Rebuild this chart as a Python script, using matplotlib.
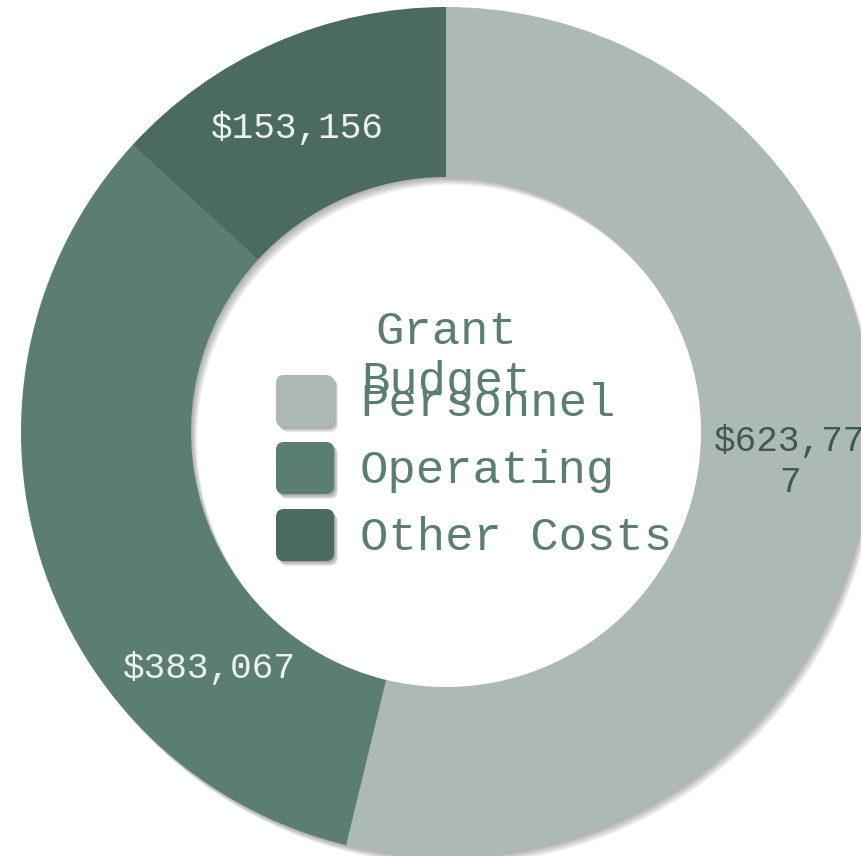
import numpy as np
import matplotlib.pyplot as plt
from matplotlib.patches import FancyBboxPatch, Wedge

# data
categories = ['Personnel', 'Operating', 'Other Costs']
amounts = [623777, 383067, 153156]
value_labels = ['$623,77\n7', '$383,067', '$153,156']
colors = ['#adbab3', '#5a7f70', '#4a6b5d']
label_colors = ['#3d5a4e', '#eef0ea', '#eef0ea']
title = 'Grant\nBudget'

W, H = 861, 856
cx, cy = 446, H - 432
r_out, r_in = 425, 255

fig = plt.figure(figsize=(W / 100, H / 100), dpi=100)
ax = fig.add_axes([0, 0, 1, 1])

# soft drop shadow for the whole ring
for k in range(1, 7):
    ax.add_patch(Wedge((cx + k, cy - 1.3 * k), r_out, 0, 360, width=r_out - r_in,
                       facecolor='#555555', edgecolor='none', alpha=0.09))

wedges, _ = ax.pie(amounts, colors=colors, startangle=90, counterclock=False,
                   radius=r_out, center=(cx, cy),
                   wedgeprops=dict(width=r_out - r_in, edgecolor='none'))

ax.set_xlim(0, W)
ax.set_ylim(0, H)
ax.set_aspect('equal')
ax.axis('off')

mono = 'Liberation Mono'

# value labels (angle measured clockwise from 12 o'clock, radius in px)
label_place = [(95, 345), (225, 335), (334, 338)]
for (ang, rr), txt, tc in zip(label_place, value_labels, label_colors):
    a = np.deg2rad(ang)
    ax.text(cx + rr * np.sin(a), cy + rr * np.cos(a), txt, ha='center', va='center',
            family=mono, fontsize=26, color=tc, linespacing=1.25)

# title in the hole
ax.text(cx, H - 357, title, ha='center', va='center', family=mono,
        fontsize=34, color='#5a7f70', linespacing=1.2)

# legend
row_y = [401, 468, 535]
for yy, col, name in zip(row_y, colors, categories):
    y0 = H - yy
    for k in range(1, 5):
        ax.add_patch(FancyBboxPatch((276 + 4 + k, y0 - 26 + 4 - 1.2 * k), 50, 44,
                                    boxstyle='round,pad=4,rounding_size=8',
                                    facecolor='#444444', edgecolor='none', alpha=0.14))
    ax.add_patch(FancyBboxPatch((276 + 4, y0 - 26 + 4), 50, 44,
                                boxstyle='round,pad=4,rounding_size=8',
                                facecolor=col, edgecolor='none'))
    ax.text(360, y0 - 3, name, ha='left', va='center', family=mono,
            fontsize=34, color='#5a7f70')

fig.savefig('out.png', dpi=100, facecolor='white')
